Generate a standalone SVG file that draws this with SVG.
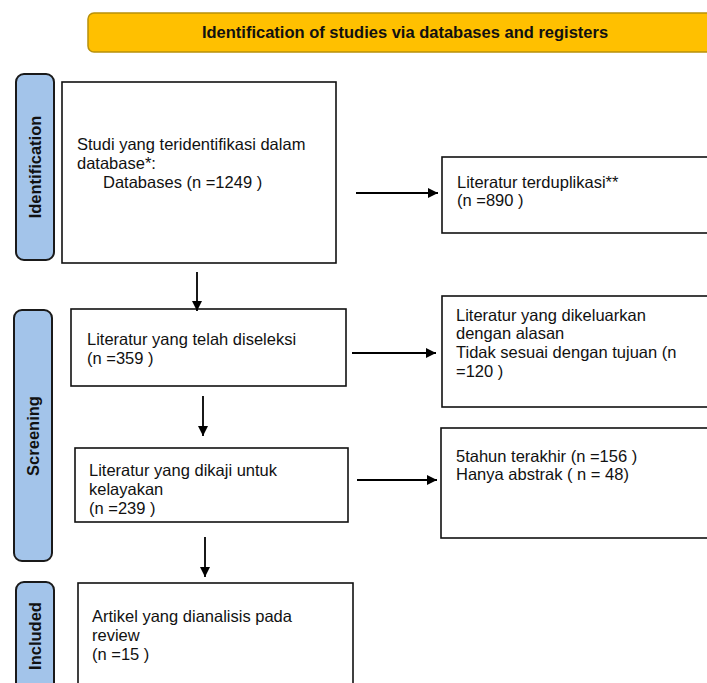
<svg xmlns="http://www.w3.org/2000/svg" width="707" height="683" viewBox="0 0 707 683">
<style>
text{font-family:"Liberation Sans",Arial,sans-serif;font-size:16.5px;fill:#111}
.box{fill:#fff;stroke:#111;stroke-width:1.6}
.lab{fill:#A3C4EA;stroke:#1a1a1a;stroke-width:2}
.lt{font-weight:bold;text-anchor:middle}
.con{stroke:#000;stroke-width:1.8;fill:none}
</style>
<defs>
<marker id="ah" viewBox="0 0 10 10" refX="10" refY="5" markerWidth="10" markerHeight="10" markerUnits="userSpaceOnUse" orient="auto">
<path d="M0,0 L10,5 L0,10 z" fill="#000"/>
</marker>
</defs>
<rect width="707" height="683" fill="#fff"/>
<g id="banner">
<rect x="88" y="13" width="640" height="39" rx="6" fill="#FFC000" stroke="#B8900A" stroke-width="1.5"/>
<text x="405" y="38" class="lt" style="font-size:16.5px">Identification of studies via databases and registers</text>
</g>
<g id="label-identification">
<rect class="lab" x="16" y="74" width="38" height="186" rx="8"/>
<text class="lt" transform="translate(41,167) rotate(-90)">Identification</text>
</g>
<g id="label-screening">
<rect class="lab" x="14" y="310" width="38" height="251" rx="8"/>
<text class="lt" transform="translate(39,436) rotate(-90)">Screening</text>
</g>
<g id="label-included">
<rect class="lab" x="16" y="582" width="38" height="120" rx="8"/>
<text class="lt" transform="translate(41,636) rotate(-90)">Included</text>
</g>
<g id="n1">
<rect class="box" x="62" y="82" width="274" height="181"/>
<text x="77" y="150">Studi yang teridentifikasi dalam</text>
<text x="77" y="169">database*:</text>
<text x="103" y="188">Databases (n =1249 )</text>
</g>
<g id="n2">
<rect class="box" x="442" y="157" width="280" height="76"/>
<text x="457" y="188">Literatur terduplikasi**</text>
<text x="457" y="206">(n =890 )</text>
</g>
<g id="n3">
<rect class="box" x="71" y="309" width="275" height="77"/>
<text x="87" y="345">Literatur yang telah diseleksi</text>
<text x="87" y="364">(n =359 )</text>
</g>
<g id="n4">
<rect class="box" x="442" y="296" width="280" height="111"/>
<text x="456" y="321">Literatur yang dikeluarkan</text>
<text x="456" y="339">dengan alasan</text>
<text x="456" y="358">Tidak sesuai dengan tujuan (n</text>
<text x="456" y="377">=120 )</text>
</g>
<g id="n5">
<rect class="box" x="75" y="448" width="273" height="74"/>
<text x="89" y="476">Literatur yang dikaji untuk</text>
<text x="89" y="495">kelayakan</text>
<text x="89" y="514">(n =239 )</text>
</g>
<g id="n6">
<rect class="box" x="441" y="428" width="280" height="110"/>
<text x="456" y="462">5tahun terakhir (n =156 )</text>
<text x="456" y="480">Hanya abstrak ( n = 48)</text>
</g>
<g id="n7">
<rect class="box" x="78" y="583" width="275" height="120"/>
<text x="92" y="622">Artikel yang dianalisis pada</text>
<text x="92" y="641">review</text>
<text x="92" y="660">(n =15 )</text>
</g>
<g id="connectors">
<line class="con" x1="356" y1="193" x2="438" y2="193" marker-end="url(#ah)"/>
<line class="con" x1="197" y1="272" x2="197" y2="311" marker-end="url(#ah)"/>
<line class="con" x1="352" y1="353" x2="436" y2="353" marker-end="url(#ah)"/>
<line class="con" x1="203" y1="396" x2="203" y2="436" marker-end="url(#ah)"/>
<line class="con" x1="357" y1="480" x2="437" y2="480" marker-end="url(#ah)"/>
<line class="con" x1="205" y1="537" x2="205" y2="577" marker-end="url(#ah)"/>
</g>
</svg>
